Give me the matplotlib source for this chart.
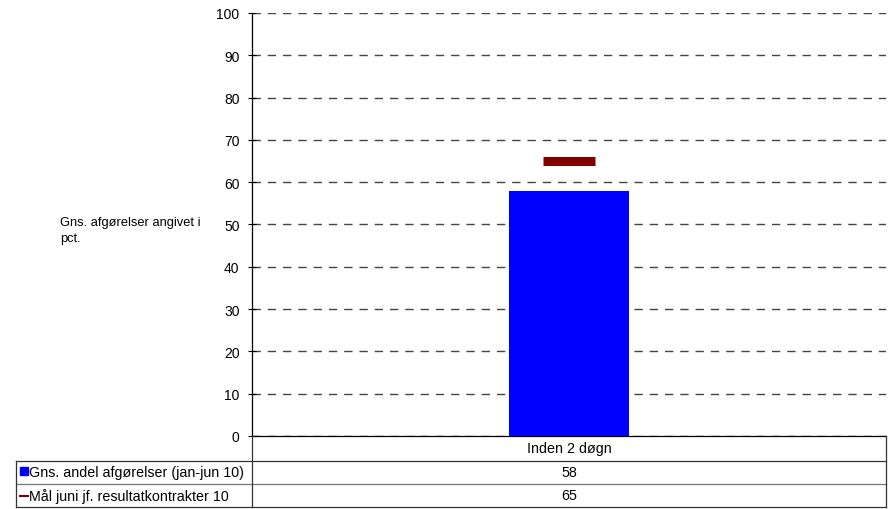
import numpy as np
import matplotlib.pyplot as plt
from matplotlib.lines import Line2D
from matplotlib.patches import Rectangle

plt.rcParams['font.family'] = ['Liberation Sans', 'DejaVu Sans']

# data
categories = ['Inden 2 døgn']
series_names = ['Gns. andel afgørelser (jan-jun 10)', 'Mål juni jf. resultatkontrakter 10']
bar_values = [58]
target_values = [65]
yticks = np.arange(0, 101, 10)

W, H = 890, 510
fig = plt.figure(figsize=(W / 100, H / 100), dpi=100)

# axis area in pixels
x0, x1 = 252, 886
y_top, y_bot = 14, 437
ax = fig.add_axes([x0 / W, 1 - y_bot / H, (x1 - x0) / W, (y_bot - y_top) / H])

xpos = np.arange(len(categories))
ax.set_xlim(-0.5, len(categories) - 0.5)
ax.set_ylim(0, 100)

ax.bar(xpos, bar_values, width=0.19, color='#0000ff', zorder=3)
for x, v in zip(xpos, target_values):
    ax.plot([x - 0.041, x + 0.041], [v, v], color='#800000', lw=6.5,
            solid_capstyle='butt', zorder=4)

ax.set_yticks(yticks)
ax.tick_params(axis='y', direction='inout', length=6, width=0.8, labelsize=10, pad=6)
ax.set_xticks([])
ax.yaxis.grid(True, linestyle=(0, (6, 5)), color='#444444', lw=1.0)
ax.set_axisbelow(True)
for s in ['top', 'right']:
    ax.spines[s].set_visible(False)
ax.spines['left'].set_linewidth(0.9)
ax.spines['bottom'].set_linewidth(0.9)

fig.text(60 / W, 1 - 231 / H, 'Gns. afgørelser angivet i\npct.', fontsize=9.3,
         ha='left', va='center', linespacing=1.4)

# data table below the axis
def px(x, y):
    return x / W, 1 - y / H

def hline(xa, xb, y, c='#333333'):
    fig.add_artist(Line2D([xa / W, xb / W], [1 - y / H, 1 - y / H], color=c, lw=0.9))

def vline(x, ya, yb, c='#333333'):
    fig.add_artist(Line2D([x / W, x / W], [1 - ya / H, 1 - yb / H], color=c, lw=0.9))

left = 16
rows = [437, 462, 485, 508]
hline(left, x1, rows[1])
hline(left, x1, rows[2], c='#777777')
hline(left, x1, rows[3])
vline(left, rows[1], rows[3])
vline(x0, rows[0], rows[3])
vline(x1, rows[0], rows[3])

fs = 10.3
cx = (x0 + x1) / 2
fig.text(*px(cx, 449.5), categories[0], fontsize=fs, ha='center', va='center')
fig.text(*px(cx, 473.5), str(bar_values[0]), fontsize=fs, ha='center', va='center')
fig.text(*px(cx, 496.5), str(target_values[0]), fontsize=fs, ha='center', va='center')

fig.add_artist(Rectangle(px(20, 476), 8 / W, 8 / H, color='#0000ff'))
fig.add_artist(Line2D([20 / W, 28 / W], [1 - 496.5 / H] * 2, color='#800000', lw=1.5))
fig.text(*px(29, 473.5), series_names[0], fontsize=fs, ha='left', va='center')
fig.text(*px(29, 496.5), series_names[1], fontsize=fs, ha='left', va='center')

fig.savefig('out.png', dpi=100)
